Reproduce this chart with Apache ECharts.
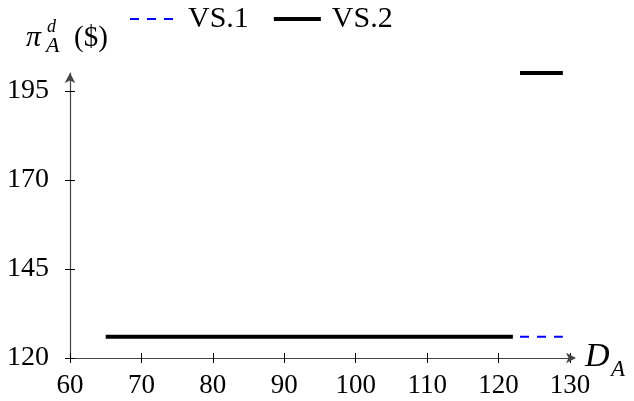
<!DOCTYPE html>
<html><head><meta charset="utf-8">
<script src="https://cdn.jsdelivr.net/npm/echarts@6/dist/echarts.min.js"></script>
<style>html,body{margin:0;padding:0;background:#fff}#c{width:634px;height:401px}</style>
</head><body><div id="c"></div>
<script>
const xTicks = [60,70,80,90,100,110,120,130];
const yTicks = [120,145,170,195];
const vs1 = [[123,126],[129,126]];
const vs2Low = [[65,126],[122,126]];
const vs2High = [[123,200],[129,200]];
const FONT = '"Liberation Serif", "DejaVu Serif", serif';
const chart = echarts.init(document.getElementById('c'));
const baseX = {type:'value', min:60, max:130, interval:10, position:'bottom', splitLine:{show:false}};
const baseY = {type:'value', min:120, max:200, position:'left', splitLine:{show:false}};
const tickStyle = {color:'#000', width:1};
chart.setOption({
  animation:false,
  textStyle:{fontFamily:FONT},
  grid:{left:70,right:64,top:73,bottom:43,containLabel:false},
  legend:{top:4,left:130,padding:0,itemWidth:47,itemHeight:4,itemGap:25,
    textStyle:{fontFamily:FONT,fontSize:30,lineHeight:30,color:'#000',padding:[0,0,0,6]},
    data:[
      {name:'VS.1',icon:'path://M0,0h0.01v0.01h-0.01z M0,1h9v2h-9z M17,1h9v2h-9z M34,1h9v2h-9z M46.99,3.99h0.01v0.01h-0.01z',itemStyle:{color:'#0000ff'}},
      {name:'VS.2',icon:'path://M0,0h47v4h-47z',itemStyle:{color:'#000'}}
    ]},
  xAxis:[
    Object.assign({}, baseX, {
      axisLine:{show:true,lineStyle:{color:'#444',width:1.2},symbol:['none','arrow'],symbolSize:[8,10],symbolOffset:[0,6]},
      axisTick:{show:true,length:5,lineStyle:tickStyle},
      axisLabel:{show:true,fontFamily:FONT,fontSize:27,color:'#000',margin:14,customValues:xTicks}
    }),
    Object.assign({}, baseX, {
      axisLine:{show:false}, axisTick:{show:true,inside:true,length:5,lineStyle:tickStyle},
      axisLabel:{show:false}
    })
  ],
  yAxis:[
    Object.assign({}, baseY, {
      axisLine:{show:true,lineStyle:{color:'#444',width:1.2},symbol:['none','arrow'],symbolSize:[8,10]},
      axisTick:{show:true,length:5,customValues:yTicks,lineStyle:tickStyle},
      axisLabel:{show:true,fontFamily:FONT,fontSize:28,color:'#000',margin:21,customValues:yTicks}
    }),
    Object.assign({}, baseY, {
      axisLine:{show:false}, axisTick:{show:true,inside:true,length:5,customValues:yTicks,lineStyle:tickStyle},
      axisLabel:{show:false}
    })
  ],
  series:[
    {name:'VS.1',type:'line',data:vs1,symbol:'none',color:'#0000ff',lineStyle:{color:'#0000ff',width:2,type:[9,8]}},
    {name:'VS.2',type:'line',data:vs2Low,symbol:'none',color:'#000',lineStyle:{color:'#000',width:4}},
    {name:'VS.2',type:'line',data:vs2High,symbol:'none',color:'#000',lineStyle:{color:'#000',width:4}}
  ],
  graphic:[
    {type:'text',x:26,y:38,style:{text:'π',font:'italic 30px "Liberation Serif"',fill:'#000',verticalAlign:'middle'}},
    {type:'text',x:47,y:27,style:{text:'d',font:'italic 18px "Liberation Serif"',fill:'#000',verticalAlign:'middle'}},
    {type:'text',x:46,y:46,style:{text:'A',font:'italic 22px "Liberation Serif"',fill:'#000',verticalAlign:'middle'}},
    {type:'text',x:74,y:38,style:{text:'($)',font:'29px "Liberation Serif"',fill:'#000',verticalAlign:'middle'}},
    {type:'text',x:585,y:357,style:{text:'D',font:'italic 34px "Liberation Serif"',fill:'#000',verticalAlign:'middle'}},
    {type:'text',x:611,y:370,style:{text:'A',font:'italic 23px "Liberation Serif"',fill:'#000',verticalAlign:'middle'}}
  ]
});
</script></body></html>
